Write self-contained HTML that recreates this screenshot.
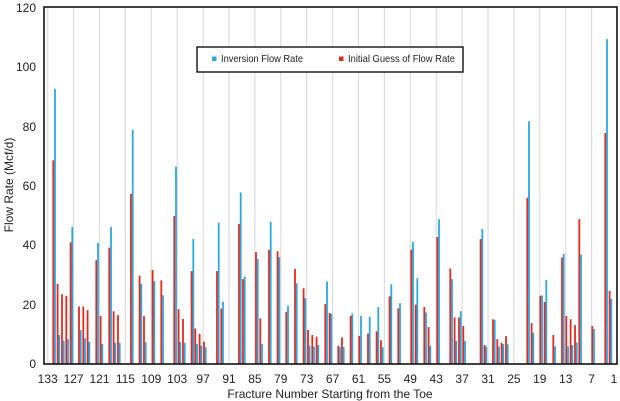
<!DOCTYPE html>
<html><head><meta charset="utf-8"><style>body{margin:0;background:#fff}svg{display:block}text{font-family:"Liberation Sans",sans-serif;fill:#222}</style></head>
<body>
<svg width="620" height="401" viewBox="0 0 620 401" xmlns="http://www.w3.org/2000/svg">
<g id="grid" stroke="#dcdcdc" stroke-width="1.2"></g>
<g id="bars"></g>
<rect x="44" y="7" width="573" height="357" fill="none" stroke="#111" stroke-width="1.6"/>
<g font-size="12" text-anchor="end">
<text x="36" y="12">120</text><text x="36" y="71">100</text><text x="36" y="131">80</text><text x="36" y="190">60</text><text x="36" y="249">40</text><text x="36" y="309">20</text><text x="36" y="368">0</text>
</g>
<g id="xl" font-size="12" text-anchor="middle"></g>
<text x="330" y="398" font-size="12" text-anchor="middle">Fracture Number Starting from the Toe</text>
<text transform="translate(13,185) rotate(-90)" font-size="12" text-anchor="middle">Flow Rate (Mcf/d)</text>
<rect x="197" y="47" width="266" height="25" fill="#fff" stroke="#111" stroke-width="1.4"/>
<rect x="212" y="56.5" width="4.5" height="4.5" fill="#29a8e0"/>
<text x="221" y="62" font-size="10.5" textLength="82" lengthAdjust="spacingAndGlyphs">Inversion Flow Rate</text>
<rect x="339" y="56.5" width="4.5" height="4.5" fill="#e8281c"/>
<text x="348" y="62" font-size="10.5" textLength="107" lengthAdjust="spacingAndGlyphs">Initial Guess of Flow Rate</text>
<script>
var ns="http://www.w3.org/2000/svg";
var g=document.getElementById("grid"),xl=document.getElementById("xl"),b=document.getElementById("bars");
for(var k=0;k<=22;k++){var x=47.7+25.9*k;
 if(k<22){var l=document.createElementNS(ns,"line");l.setAttribute("x1",x);l.setAttribute("x2",x);l.setAttribute("y1",8);l.setAttribute("y2",363);g.appendChild(l);}
 var t=document.createElementNS(ns,"text");t.setAttribute("x",Math.min(x,614));t.setAttribute("y",383);t.textContent=133-6*k;xl.appendChild(t);}
var d=[[53,68.4,92.5],[57.3,26.8,9.6],[61.7,23.3,7.7],[66,22.8,8.2],[70.3,40.8,46],[78.7,19.2,11.3],[83,19.2,8.5],[87.3,18,7.3],[96,34.8,40.6],[100.3,16,6.6],[109,39,46],[113.3,17.6,7],[117.7,16.3,7],[130.7,57.1,78.7],[139.3,29.6,26.8],[143.7,16,7.2],[152.3,31.5,27.7],[161,28,23],[174,49.7,66.3],[178.3,18.3,7.2],[182.7,15,7],[191.3,31.1,41.9],[195,11.8,6.6],[199.3,10,6],[203.7,7.3,5.5],[216.7,31.1,47.4],[221,18.5,20.8],[238.7,47,57.6],[242.7,28.4,29.3],[255.7,37.5,35.2],[260,15.2,6.6],[268.7,38.3,47.7],[277.3,37.8,35.8],[286,17.4,19.5],[294.7,31.8,27],[303.3,25.3,22],[307.7,11.3,6],[312,9.6,5.7],[316.3,9,6.2],[325,20,27.6],[329.3,17,16.7],[338,6,5.5],[341.7,8.8,5.6],[350.3,16,16.8],[359,9.3,16],[367.7,10.1,15.8],[376.3,10.8,19],[380.7,7.8,5.5],[389.3,22.6,26.7],[398,18.6,20.3],[411,38.3,40.9],[415.3,19.8,28.7],[424,19,17.2],[428.3,12.3,6],[437,42.6,48.6],[450,32,28.4],[454.3,15.5,7.6],[458.7,15.5,17.6],[463,12.6,7.6],[480.3,41.9,45.3],[484.3,6.2,5.7],[492.7,14.9,14.7],[497,8.2,5.7],[501.3,7,6.5],[505.7,9.2,6.5],[527,55.8,81.6],[531.3,13.6,10.3],[540,22.8,22.9],[544.3,20.7,28.1],[553,9.6,5.8],[561.7,35.7,36.9],[566,16,5.8],[570.3,14.9,6.2],[574.7,12.9,7.1],[579,48.6,36.7],[592,12.6,11.6],[605,77.6,109.2],[609.3,24.5,21.8]];
function bar(x,v,c){var r=document.createElementNS(ns,"rect");var h=v*2.97;r.setAttribute("x",x);r.setAttribute("y",363.5-h);r.setAttribute("width",1.8);r.setAttribute("height",h);r.setAttribute("fill",c);b.appendChild(r);}
d.forEach(function(p){bar(p[0]-0.6,p[1],"#e8281c");bar(p[0]+1.1,p[2],"#29a8e0");});
</script>
</svg>
</body></html>
